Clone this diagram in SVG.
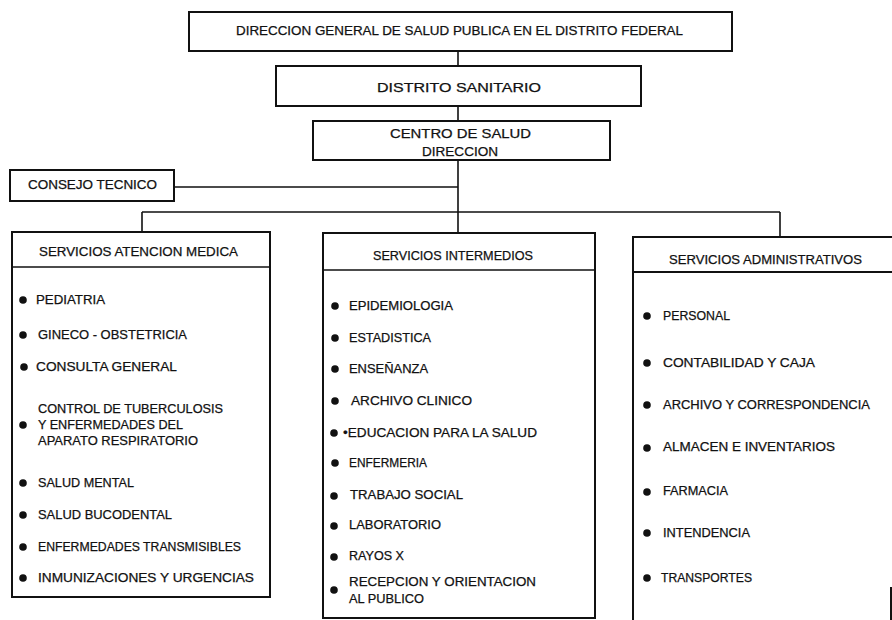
<svg xmlns="http://www.w3.org/2000/svg" width="892" height="620" viewBox="0 0 892 620">
<style>
.box{fill:#fff;stroke:#111;stroke-width:2}
.ln{fill:none;stroke:#111;stroke-width:1.6}
text{font-family:"Liberation Sans",Arial,sans-serif;font-size:12.5px;fill:#111;stroke:#111;stroke-width:0.25;dominant-baseline:central}
.b{fill:#111}
</style>
<rect width="892" height="620" fill="#fff"/>
<g id="connectors">
<path class="ln" d="M458 51V66M458 106V121M458 160V212M174 187H458M142 212H780M142 212V232M458 212V233M780 212V237"/>
</g>
<g id="n-direccion-general">
<rect class="box" x="189" y="12" width="543" height="39"/>
<text x="236" y="31" textLength="447" lengthAdjust="spacingAndGlyphs">DIRECCION GENERAL DE SALUD PUBLICA EN EL DISTRITO FEDERAL</text>
</g>
<g id="n-distrito">
<rect class="box" x="276" y="66" width="365" height="40"/>
<text x="377" y="88" textLength="164" lengthAdjust="spacingAndGlyphs">DISTRITO SANITARIO</text>
</g>
<g id="n-centro">
<rect class="box" x="313" y="121" width="297" height="39"/>
<text x="390" y="134" textLength="141" lengthAdjust="spacingAndGlyphs">CENTRO DE SALUD</text>
<text x="422" y="152" textLength="76" lengthAdjust="spacingAndGlyphs">DIRECCION</text>
</g>
<g id="n-consejo">
<rect class="box" x="10" y="170" width="164" height="31"/>
<text x="28" y="185" textLength="129" lengthAdjust="spacingAndGlyphs">CONSEJO TECNICO</text>
</g>
<g id="n-atencion">
<rect class="box" x="12" y="232" width="258" height="365"/>
<line class="ln" x1="12" y1="267" x2="270" y2="267"/>
<text x="39" y="252" textLength="199" lengthAdjust="spacingAndGlyphs">SERVICIOS ATENCION MEDICA</text>
<circle class="b" cx="23" cy="300" r="3.8"/><text x="36" y="300" textLength="69" lengthAdjust="spacingAndGlyphs">PEDIATRIA</text>
<circle class="b" cx="23" cy="335" r="3.8"/><text x="38" y="335" textLength="149" lengthAdjust="spacingAndGlyphs">GINECO - OBSTETRICIA</text>
<circle class="b" cx="24" cy="367" r="3.8"/><text x="36" y="367" textLength="141" lengthAdjust="spacingAndGlyphs">CONSULTA GENERAL</text>
<circle class="b" cx="23" cy="425" r="3.8"/>
<text x="38" y="409" textLength="185" lengthAdjust="spacingAndGlyphs">CONTROL DE TUBERCULOSIS</text>
<text x="38" y="425" textLength="145" lengthAdjust="spacingAndGlyphs">Y ENFERMEDADES DEL</text>
<text x="38" y="441" textLength="160" lengthAdjust="spacingAndGlyphs">APARATO RESPIRATORIO</text>
<circle class="b" cx="23" cy="483" r="3.8"/><text x="38" y="483" textLength="96" lengthAdjust="spacingAndGlyphs">SALUD MENTAL</text>
<circle class="b" cx="23" cy="515" r="3.8"/><text x="38" y="515" textLength="134" lengthAdjust="spacingAndGlyphs">SALUD BUCODENTAL</text>
<circle class="b" cx="23" cy="547" r="3.8"/><text x="38" y="547" textLength="203" lengthAdjust="spacingAndGlyphs">ENFERMEDADES TRANSMISIBLES</text>
<circle class="b" cx="23" cy="578" r="3.8"/><text x="38" y="578" textLength="216" lengthAdjust="spacingAndGlyphs">INMUNIZACIONES Y URGENCIAS</text>
</g>
<g id="n-intermedios">
<rect class="box" x="323" y="233" width="272" height="385"/>
<line class="ln" x1="323" y1="270" x2="595" y2="270"/>
<text x="373" y="256" textLength="160" lengthAdjust="spacingAndGlyphs">SERVICIOS INTERMEDIOS</text>
<circle class="b" cx="335" cy="306" r="3.8"/><text x="349" y="306" textLength="104" lengthAdjust="spacingAndGlyphs">EPIDEMIOLOGIA</text>
<circle class="b" cx="335" cy="338" r="3.8"/><text x="349" y="338" textLength="82" lengthAdjust="spacingAndGlyphs">ESTADISTICA</text>
<circle class="b" cx="335" cy="369" r="3.8"/><text x="349" y="369" textLength="79" lengthAdjust="spacingAndGlyphs">ENSEÑANZA</text>
<circle class="b" cx="335" cy="401" r="3.8"/><text x="351" y="401" textLength="121" lengthAdjust="spacingAndGlyphs">ARCHIVO CLINICO</text>
<circle class="b" cx="334" cy="433" r="3.8"/><text x="343" y="433" textLength="194" lengthAdjust="spacingAndGlyphs">•EDUCACION PARA LA SALUD</text>
<circle class="b" cx="335" cy="463" r="3.8"/><text x="349" y="463" textLength="78" lengthAdjust="spacingAndGlyphs">ENFERMERIA</text>
<circle class="b" cx="334" cy="496" r="3.8"/><text x="350" y="495" textLength="113" lengthAdjust="spacingAndGlyphs">TRABAJO SOCIAL</text>
<circle class="b" cx="334" cy="526" r="3.8"/><text x="349" y="525" textLength="92" lengthAdjust="spacingAndGlyphs">LABORATORIO</text>
<circle class="b" cx="334" cy="557" r="3.8"/><text x="349" y="556" textLength="55" lengthAdjust="spacingAndGlyphs">RAYOS X</text>
<circle class="b" cx="334" cy="590" r="3.8"/>
<text x="349" y="582" textLength="187" lengthAdjust="spacingAndGlyphs">RECEPCION Y ORIENTACION</text>
<text x="349" y="599" textLength="75" lengthAdjust="spacingAndGlyphs">AL PUBLICO</text>
</g>
<g id="n-administrativos">
<path class="ln" style="stroke-width:2" d="M633 620V237H892M633 272H892M891 587V620"/>
<text x="669" y="260" textLength="193" lengthAdjust="spacingAndGlyphs">SERVICIOS ADMINISTRATIVOS</text>
<circle class="b" cx="647" cy="316" r="3.8"/><text x="663" y="316" textLength="67" lengthAdjust="spacingAndGlyphs">PERSONAL</text>
<circle class="b" cx="647" cy="363" r="3.8"/><text x="663" y="363" textLength="152" lengthAdjust="spacingAndGlyphs">CONTABILIDAD Y CAJA</text>
<circle class="b" cx="647" cy="405" r="3.8"/><text x="663" y="405" textLength="207" lengthAdjust="spacingAndGlyphs">ARCHIVO Y CORRESPONDENCIA</text>
<circle class="b" cx="647" cy="448" r="3.8"/><text x="663" y="447" textLength="172" lengthAdjust="spacingAndGlyphs">ALMACEN E INVENTARIOS</text>
<circle class="b" cx="647" cy="492" r="3.8"/><text x="663" y="491" textLength="65" lengthAdjust="spacingAndGlyphs">FARMACIA</text>
<circle class="b" cx="647" cy="533" r="3.8"/><text x="663" y="533" textLength="87" lengthAdjust="spacingAndGlyphs">INTENDENCIA</text>
<circle class="b" cx="647" cy="578" r="3.8"/><text x="661" y="578" textLength="91" lengthAdjust="spacingAndGlyphs">TRANSPORTES</text>
</g>
</svg>
